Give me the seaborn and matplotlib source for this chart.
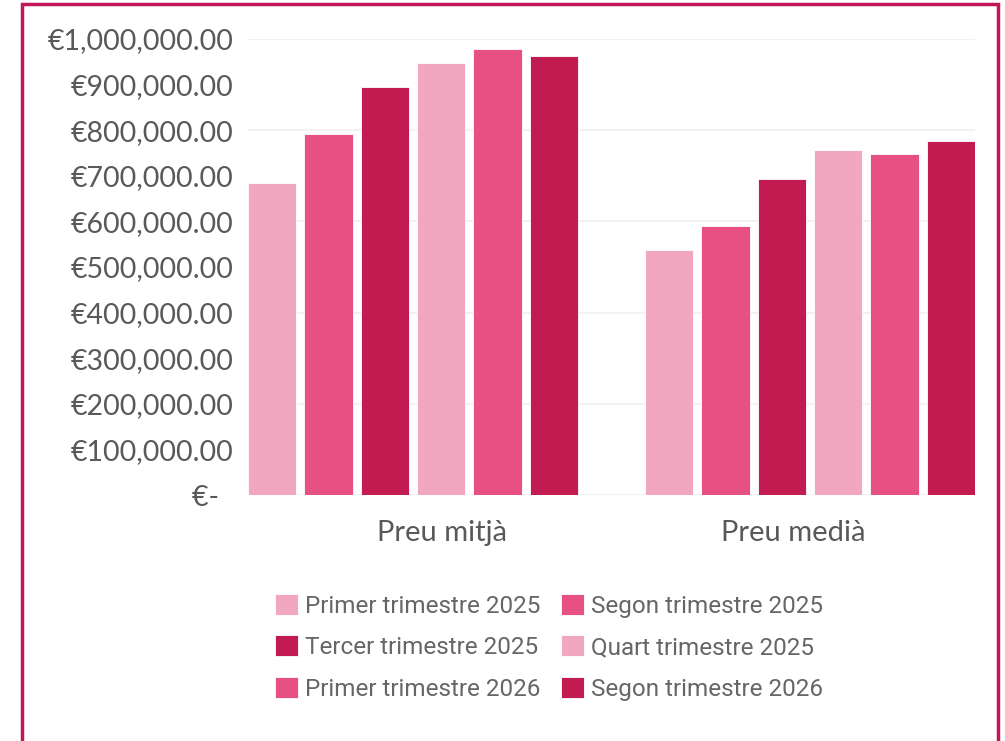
import pandas as pd
import matplotlib
matplotlib.use("Agg")
import matplotlib.pyplot as plt
import seaborn as sns
from matplotlib.patches import Rectangle
from matplotlib.ticker import FuncFormatter, MultipleLocator

# data
categories = ["Preu mitjà", "Preu medià"]
series = ["Primer trimestre 2025", "Segon trimestre 2025", "Tercer trimestre 2025",
          "Quart trimestre 2025", "Primer trimestre 2026", "Segon trimestre 2026"]
preu_mitja = [685000, 792000, 894000, 948000, 978000, 963000]
preu_media = [538000, 591000, 693000, 756000, 748000, 777000]
colors = ["#F2A7C0", "#E75082", "#C21B52", "#F2A7C0", "#E75082", "#C21B52"]

rows = []
for s, a, b in zip(series, preu_mitja, preu_media):
    rows.append({"categoria": categories[0], "serie": s, "valor": a})
    rows.append({"categoria": categories[1], "serie": s, "valor": b})
df = pd.DataFrame(rows)

sns.set_theme(style="white")
plt.rcParams["font.family"] = ["Lato", "DejaVu Sans"]

fig = plt.figure(figsize=(10.05, 7.41), dpi=100)
ax = fig.add_axes([248 / 1005, 1 - 495 / 741, 727 / 1005, 456 / 741])

sns.barplot(data=df, x="categoria", y="valor", hue="serie", order=categories,
            hue_order=series, palette=colors, width=0.851, gap=0.142,
            edgecolor="#ffffff", linewidth=0.6, saturation=1, ax=ax)

ax.set_xlim(-0.4155, 1.4155)
ax.set_ylim(0, 1000000)
ax.yaxis.set_major_locator(MultipleLocator(100000))


def euro(v, pos):
    if v == 0:
        return "€-  "
    return "€{:,.2f}".format(v)


ax.yaxis.set_major_formatter(FuncFormatter(euro))
ax.tick_params(axis="y", length=0, pad=10.5, labelsize=20.5, labelcolor="#595959")
for y in range(0, 1000001, 200000):
    ax.axhline(y, color="#F2F2F2", lw=1.5, zorder=0)
ax.set_axisbelow(True)

ax.set_xticks([0.072, 0.957])
ax.set_xticklabels(categories)
ax.tick_params(axis="x", length=0, pad=18, labelsize=21, labelcolor="#595959")
ax.set_xlabel("")
ax.set_ylabel("")
for sp in ax.spines.values():
    sp.set_visible(False)

handles, labels = ax.get_legend_handles_labels()
ordre = [0, 2, 4, 1, 3, 5]
ax.legend([handles[i] for i in ordre], [labels[i] for i in ordre],
          ncol=2, loc="upper center", bbox_to_anchor=(549 / 1005, 1 - 572 / 741),
          bbox_transform=fig.transFigure, frameon=False,
          prop={"family": "Roboto", "size": 17.5}, labelcolor="#666666",
          handlelength=0.95, handleheight=0.95, handletextpad=0.3,
          columnspacing=0.82, labelspacing=0.73)

# border around the whole chart
fig.patches.append(Rectangle((22 / 1005, -0.05), 976 / 1005, 1.05 - 4 / 741,
                             transform=fig.transFigure, fill=False,
                             edgecolor="#C2185B", lw=2.5))

fig.savefig("out.png", dpi=100)
